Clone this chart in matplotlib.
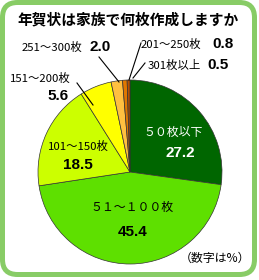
import matplotlib
matplotlib.use("Agg")
import matplotlib.pyplot as plt
from matplotlib.patches import FancyBboxPatch

# データ（時計回り、上から）
labels = ["５０枚以下", "５１～１００枚", "101～150枚", "151～200枚",
          "251～300枚", "201～250枚", "301枚以上"]
values = [27.2, 45.4, 18.5, 5.6, 2.0, 0.8, 0.5]
colors = ["#006600", "#5ee000", "#ccff00", "#ffff00",
          "#ffc040", "#e07800", "#b85000"]

W, H = 259, 280
JP = ["Noto Sans CJK JP", "DejaVu Sans"]
NUM = ["Liberation Sans", "DejaVu Sans"]

fig = plt.figure(figsize=(W / 100, H / 100), dpi=100)
ax = fig.add_axes([0, 0, 1, 1])

# 円グラフ（ピクセル座標で配置）
cx, cy, r = 130, 172, 92
ax.pie(values, colors=colors, startangle=90, counterclock=False,
       center=(cx, H - cy), radius=r,
       wedgeprops=dict(edgecolor="#333333", linewidth=0.5))

ax.set_xlim(0, W)
ax.set_ylim(0, H)
ax.set_aspect("equal")
ax.axis("off")

# 外枠
box = FancyBboxPatch((2.5, H - 274.5), 252, 272,
                     boxstyle="round,pad=0,rounding_size=15",
                     facecolor="none", edgecolor="#88cc66", linewidth=3.6)
ax.add_patch(box)


def txt(x, y, s, size, fam, weight="normal", color="black", ha="left"):
    ax.text(x, H - y, s, fontsize=size, family=fam, fontweight=weight,
            color=color, ha=ha, va="center")


txt(128, 19, "年賀状は家族で何枚作成しますか", 10.6, JP, "bold", ha="center")

# ラベル
txt(22, 47, labels[4], 8.2, JP)
txt(90, 47, f"{values[4]:.1f}", 11, NUM, "bold")
txt(141, 44, labels[5], 8.2, JP)
txt(212, 44, f"{values[5]:.1f}", 11, NUM, "bold")
txt(148, 65, labels[6], 8.2, JP)
txt(207, 65, f"{values[6]:.1f}", 11, NUM, "bold")
txt(10, 78, labels[3], 8.2, JP)
txt(47, 96, f"{values[3]:.1f}", 11, NUM, "bold")
txt(48, 146, labels[2], 8.2, JP)
txt(63, 165, f"{values[2]:.1f}", 11, NUM, "bold")
txt(143, 132, labels[0], 8.6, JP, color="white")
txt(165, 153, f"{values[0]:.1f}", 11, NUM, "bold", color="white")
txt(132, 207, labels[1], 8.6, JP, ha="center")
txt(133, 232, f"{values[1]:.1f}", 11, NUM, "bold", ha="center")
txt(215, 258, "（数字は%）", 8.6, JP, ha="center")

# 引き出し線
for (x0, y0), (x1, y1) in [((99, 57), (119, 82)), ((141, 43), (129, 80)),
                           ((145, 63), (133, 78)), ((77, 83), (93, 105))]:
    ax.plot([x0, x1], [H - y0, H - y1], color="black", lw=0.8)

fig.savefig("out.png", dpi=100)
